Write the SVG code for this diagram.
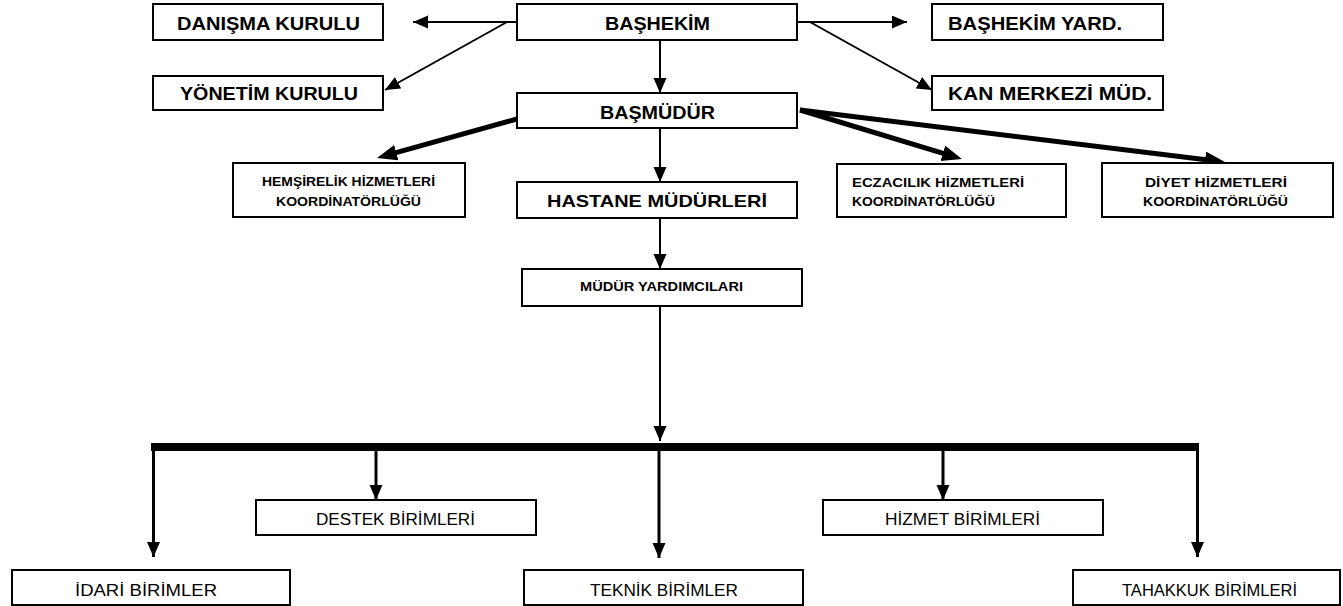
<svg xmlns="http://www.w3.org/2000/svg" width="1343" height="606" viewBox="0 0 1343 606">
<style>
.box{fill:#fff;stroke:#000;stroke-width:2}
.t{font-family:"Liberation Sans",Arial,sans-serif;fill:#000}
.b{font-weight:bold}
.thin{stroke:#000;stroke-width:2;fill:none;marker-end:url(#ah)}
.drop{stroke:#000;stroke-width:3;fill:none;marker-end:url(#ah)}
.thick{stroke:#000;stroke-width:5;fill:none;marker-end:url(#ahb)}
</style>
<defs>
<marker id="ah" markerUnits="userSpaceOnUse" markerWidth="16" markerHeight="14" refX="15" refY="6.5" orient="auto" viewBox="0 0 16 14">
<path d="M0,0 L15,6.5 L0,13 Z" fill="#000"/>
</marker>
<marker id="ahb" markerUnits="userSpaceOnUse" markerWidth="22" markerHeight="18" refX="3" refY="8" orient="auto" viewBox="0 0 22 18">
<path d="M0,0 L20,8 L0,16 Z" fill="#000"/>
</marker>
</defs>
<rect width="1343" height="606" fill="#fff"/>
<g id="connectors">
<line class="thin" x1="517" y1="22" x2="413" y2="22"/>
<line class="thin" x1="507" y1="22" x2="385" y2="90"/>
<line class="thin" x1="797" y1="22" x2="907" y2="22"/>
<line class="thin" x1="810" y1="22" x2="932" y2="90"/>
<line class="thin" x1="660" y1="40" x2="660" y2="93"/>
<line class="thin" x1="660" y1="128" x2="660" y2="182"/>
<line class="thin" x1="660" y1="218" x2="660" y2="269"/>
<line class="thin" x1="660" y1="306" x2="660" y2="441"/>
<line class="thick" x1="517" y1="119" x2="393.4" y2="153.4"/>
<line class="thick" x1="800" y1="110" x2="945.7" y2="154.1"/>
<line class="thick" x1="800" y1="110" x2="1208.1" y2="159.9"/>
<rect x="151" y="443" width="1048" height="8" fill="#000"/>
<line class="drop" x1="153.5" y1="447" x2="153.5" y2="557"/>
<line class="drop" x1="376" y1="447" x2="376" y2="500"/>
<line class="drop" x1="659" y1="447" x2="659" y2="558"/>
<line class="drop" x1="943" y1="447" x2="943" y2="500"/>
<line class="drop" x1="1197.5" y1="447" x2="1197.5" y2="557"/>
</g>
<g id="danisma"><rect class="box" x="153" y="4" width="230" height="36"/><text class="t b" x="177" y="30" font-size="18" textLength="183" lengthAdjust="spacingAndGlyphs">DANIŞMA KURULU</text></g>
<g id="yonetim"><rect class="box" x="153" y="76" width="230" height="34"/><text class="t b" x="180" y="100" font-size="18" textLength="178" lengthAdjust="spacingAndGlyphs">YÖNETİM KURULU</text></g>
<g id="bashekim"><rect class="box" x="517" y="4" width="280" height="36"/><text class="t b" x="605" y="30" font-size="18" textLength="105" lengthAdjust="spacingAndGlyphs">BAŞHEKİM</text></g>
<g id="basmudur"><rect class="box" x="517" y="93" width="280" height="35"/><text class="t b" x="600" y="119" font-size="18" textLength="115" lengthAdjust="spacingAndGlyphs">BAŞMÜDÜR</text></g>
<g id="hastane"><rect class="box" x="517" y="182" width="280" height="36"/><text class="t b" x="547" y="207" font-size="17" textLength="220" lengthAdjust="spacingAndGlyphs">HASTANE MÜDÜRLERİ</text></g>
<g id="bashekimyard"><rect class="box" x="932" y="4" width="231" height="36"/><text class="t b" x="948" y="30" font-size="18" textLength="174" lengthAdjust="spacingAndGlyphs">BAŞHEKİM YARD.</text></g>
<g id="kanmerkezi"><rect class="box" x="932" y="76" width="231" height="34"/><text class="t b" x="948" y="100" font-size="18" textLength="204" lengthAdjust="spacingAndGlyphs">KAN MERKEZİ MÜD.</text></g>
<g id="hemsirelik"><rect class="box" x="233" y="163" width="232" height="54"/><text class="t b" x="262" y="186" font-size="13" textLength="173" lengthAdjust="spacingAndGlyphs">HEMŞİRELİK HİZMETLERİ</text><text class="t b" x="276" y="206" font-size="13" textLength="145" lengthAdjust="spacingAndGlyphs">KOORDİNATÖRLÜĞÜ</text></g>
<g id="eczacilik"><rect class="box" x="837" y="164" width="229" height="53"/><text class="t b" x="852" y="187" font-size="13" textLength="172" lengthAdjust="spacingAndGlyphs">ECZACILIK HİZMETLERİ</text><text class="t b" x="852" y="206" font-size="13" textLength="143" lengthAdjust="spacingAndGlyphs">KOORDİNATÖRLÜĞÜ</text></g>
<g id="diyet"><rect class="box" x="1102" y="163" width="231" height="54"/><text class="t b" x="1145" y="187" font-size="13" textLength="142" lengthAdjust="spacingAndGlyphs">DİYET HİZMETLERİ</text><text class="t b" x="1143" y="206" font-size="13" textLength="145" lengthAdjust="spacingAndGlyphs">KOORDİNATÖRLÜĞÜ</text></g>
<g id="muduryard"><rect class="box" x="522" y="269" width="280" height="37"/><text class="t b" x="580" y="291" font-size="13" textLength="163" lengthAdjust="spacingAndGlyphs">MÜDÜR YARDIMCILARI</text></g>
<g id="destek"><rect class="box" x="256" y="500" width="280" height="35"/><text class="t" x="316" y="525" font-size="16" textLength="159" lengthAdjust="spacingAndGlyphs">DESTEK BİRİMLERİ</text></g>
<g id="hizmet"><rect class="box" x="823" y="500" width="280" height="35"/><text class="t" x="885" y="525" font-size="16" textLength="155" lengthAdjust="spacingAndGlyphs">HİZMET BİRİMLERİ</text></g>
<g id="idari"><rect class="box" x="12" y="570" width="278" height="35"/><text class="t" x="75" y="596" font-size="16" textLength="142" lengthAdjust="spacingAndGlyphs">İDARİ BİRİMLER</text></g>
<g id="teknik"><rect class="box" x="524" y="570" width="279" height="35"/><text class="t" x="590" y="596" font-size="16" textLength="148" lengthAdjust="spacingAndGlyphs">TEKNİK BİRİMLER</text></g>
<g id="tahakkuk"><rect class="box" x="1073" y="570" width="267" height="35"/><text class="t" x="1122" y="596" font-size="16" textLength="175" lengthAdjust="spacingAndGlyphs">TAHAKKUK BİRİMLERİ</text></g>
</svg>
